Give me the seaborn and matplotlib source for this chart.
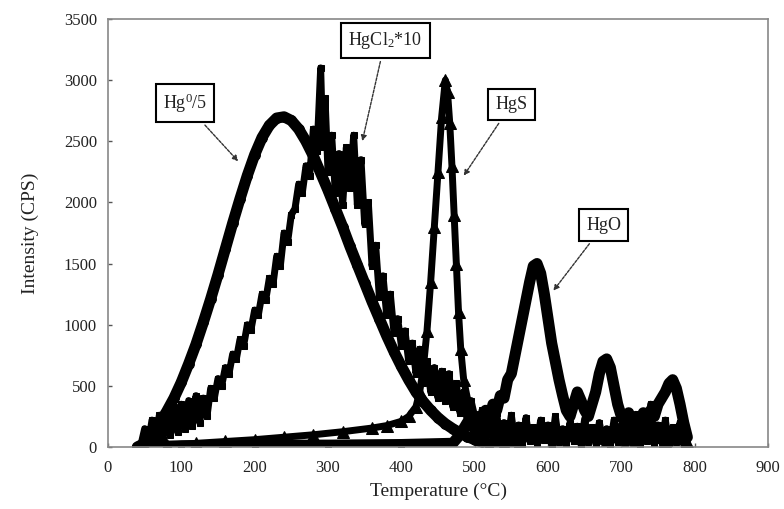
import matplotlib
matplotlib.use("Agg")
import matplotlib.pyplot as plt
import seaborn as sns
import pandas as pd

# ---- data ----
hg0_t = [40, 50, 60, 70, 80, 90, 100, 110, 120, 130, 140, 150, 160, 170, 180, 190, 200, 210, 220, 230,
         240, 250, 260, 270, 280, 290, 300, 310, 320, 330, 340, 350, 360, 370, 380, 390, 400, 410, 420,
         430, 440, 450, 460, 470, 480, 490, 500, 510, 520, 540, 560]
hg0_i = [0, 30, 100, 190, 290, 400, 530, 680, 840, 1020, 1210, 1410, 1620, 1830, 2030, 2220, 2390, 2530,
         2630, 2690, 2700, 2670, 2600, 2500, 2380, 2240, 2100, 1950, 1800, 1640, 1490, 1340, 1190, 1050,
         910, 780, 660, 550, 450, 370, 300, 240, 190, 150, 115, 85, 60, 40, 25, 10, 0]

# HgCl2*10, rising part and peak (noisy)
hgcl2_t = [45, 50, 55, 60, 65, 70, 75, 80, 85, 90, 95, 100, 105, 110, 115, 120, 125, 130, 135, 140, 145,
           150, 155, 160, 165, 170, 175, 180, 185, 190, 195, 200, 205, 210, 215, 220, 225, 230, 235, 240,
           245, 250, 255, 260, 265, 270, 275, 280, 285, 290, 293, 296, 300, 305, 310, 315, 320, 325, 330,
           335, 340, 345, 350, 355, 360, 365, 370, 375, 380, 385, 390, 395, 400, 405, 410, 415, 420, 425,
           430, 435, 440, 445, 450, 455, 460, 465, 470, 475, 480, 485, 490, 495]
hgcl2_i = [20, 150, 30, 220, 50, 260, 60, 300, 100, 330, 120, 350, 150, 380, 170, 420, 200, 400, 250,
           480, 400, 560, 500, 650, 600, 760, 720, 880, 830, 1000, 960, 1120, 1080, 1250, 1200, 1380, 1330,
           1560, 1480, 1750, 1680, 1900, 1950, 2150, 2080, 2300, 2220, 2600, 2420, 3100, 2450, 2850, 2250,
           2550, 2080, 2400, 1980, 2450, 2120, 2550, 1980, 2350, 1820, 2000, 1480, 1650, 1230, 1400, 1080,
           1250, 930, 1050, 830, 950, 700, 850, 600, 800, 520, 700, 450, 650, 400, 620, 380, 600, 330, 520,
           280, 450, 200, 380]
# HgCl2*10, noisy tail
hgcl2_tail_t = [500, 505, 510, 515, 520, 525, 530, 535, 540, 545, 550, 555, 560, 565, 570, 575, 580, 585,
                590, 595, 600, 605, 610, 615, 620, 625, 630, 635, 640, 645, 650, 655, 660, 665, 670, 675,
                680, 685, 690, 695, 700, 705, 710, 715, 720, 725, 730, 735, 740, 745, 750, 755, 760, 765,
                770, 775, 780, 785, 790]
hgcl2_tail_i = [250, 60, 300, 40, 220, 80, 280, 30, 200, 60, 260, 40, 180, 20, 240, 50, 160, 30, 220, 60,
                180, 20, 250, 40, 150, 30, 200, 50, 170, 20, 230, 40, 160, 30, 200, 50, 150, 20, 220, 40,
                170, 30, 250, 40, 160, 20, 200, 50, 350, 30, 180, 40, 220, 30, 160, 40, 200, 20, 60]

hgs_t = [40, 80, 120, 160, 200, 240, 280, 320, 360, 380, 400, 410, 420, 425, 430, 435, 440, 445, 450, 455,
         460, 463, 466, 469, 472, 475, 478, 481, 485, 490, 495, 500, 510, 520, 540, 560, 580, 600, 640,
         680, 720, 760, 790]
hgs_i = [0, 15, 30, 45, 60, 80, 100, 125, 155, 175, 210, 250, 330, 450, 650, 950, 1350, 1800, 2250, 2700,
         3000, 2900, 2650, 2300, 1900, 1500, 1100, 800, 550, 400, 300, 230, 180, 150, 120, 100, 90, 80,
         70, 60, 60, 50, 40]

hgo_t = [45, 100, 200, 300, 400, 470, 480, 490, 500, 505, 510, 515, 520, 525, 530, 535, 540, 545, 550,
         555, 560, 565, 570, 575, 580, 585, 590, 595, 600, 605, 610, 615, 620, 625, 630, 635, 640, 645,
         650, 655, 660, 665, 670, 675, 680, 685, 690, 695, 700, 705, 710, 715, 720, 725, 730, 735, 740,
         745, 750, 755, 760, 765, 770, 775, 780, 785, 790]
hgo_i = [0, 10, 15, 15, 20, 30, 100, 200, 150, 250, 180, 300, 220, 350, 300, 420, 400, 550, 600, 750, 900,
         1050, 1200, 1350, 1480, 1500, 1420, 1250, 1050, 850, 700, 550, 420, 300, 250, 350, 450, 380, 300,
         250, 350, 450, 600, 700, 720, 650, 500, 350, 250, 200, 280, 180, 250, 200, 280, 220, 300, 250,
         350, 400, 450, 520, 550, 480, 350, 200, 80]

x_ticks = [0, 100, 200, 300, 400, 500, 600, 700, 800, 900]
y_ticks = [0, 500, 1000, 1500, 2000, 2500, 3000, 3500]

labels = ["Hg$^0$/5", "HgCl$_2$*10", "HgS", "HgO"]
label_pos = [(105, 2810), (378, 3325), (550, 2800), (676, 1815)]
arrow_tip = [(180, 2320), (346, 2480), (483, 2200), (605, 1260)]

# ---- plotting ----
sns.set_theme(style="white")
plt.rcParams['font.family'] = ['Liberation Serif', 'DejaVu Serif']
plt.rcParams['mathtext.fontset'] = 'custom'
plt.rcParams['mathtext.rm'] = 'Liberation Serif'
plt.rcParams['mathtext.it'] = 'Liberation Serif'

fig = plt.figure(figsize=(7.84, 5.09), dpi=100)
ax = fig.add_axes([108 / 784, 1 - 447 / 509, 660 / 784, 428 / 509])

df0 = pd.DataFrame({"T": hg0_t, "I": hg0_i})
df1 = pd.DataFrame({"T": hgcl2_t + hgcl2_tail_t, "I": hgcl2_i + hgcl2_tail_i})
df2 = pd.DataFrame({"T": hgs_t, "I": hgs_i})
df3 = pd.DataFrame({"T": hgo_t, "I": hgo_i})

mk = dict(markeredgecolor="black", markerfacecolor="black", estimator=None, sort=False, color="black")
sns.lineplot(data=df0, x="T", y="I", ax=ax, lw=8, marker="o", markersize=7, **mk)
sns.lineplot(data=df1, x="T", y="I", ax=ax, lw=5, marker="s", markersize=4, **mk)
sns.lineplot(data=df3, x="T", y="I", ax=ax, lw=8, marker="s", markersize=5, **mk)
sns.lineplot(data=df2, x="T", y="I", ax=ax, lw=5, marker="^", markersize=8, **mk)

ax.set_xlim(0, 900)
ax.set_ylim(0, 3500)
ax.set_xticks(x_ticks)
ax.set_yticks(y_ticks)
ax.tick_params(axis="both", direction="in", length=3, width=1, color="#555555",
               labelsize=12, labelcolor="#222222", bottom=True, left=True)
ax.tick_params(axis="y", pad=8)
ax.tick_params(axis="x", pad=9)
for s in ax.spines.values():
    s.set_color("#888888")
    s.set_linewidth(1.2)

ax.set_xlabel("Temperature (°C)", fontsize=14, color="#222222", labelpad=5)
ax.set_ylabel("Intensity (CPS)", fontsize=14, color="#222222", labelpad=18)

for lab, (tx, ty), (ax_, ay) in zip(labels, label_pos, arrow_tip):
    ax.annotate(lab, xy=(ax_, ay), xytext=(tx, ty), ha="center", va="center", fontsize=13,
                color="#222222",
                bbox=dict(boxstyle="square,pad=0.4", fc="white", ec="black", lw=1.5),
                arrowprops=dict(arrowstyle="-|>", color="#333333", lw=1, mutation_scale=8,
                                linestyle=(0, (2, 1))),
                zorder=10)

fig.savefig("out.png", dpi=100)
